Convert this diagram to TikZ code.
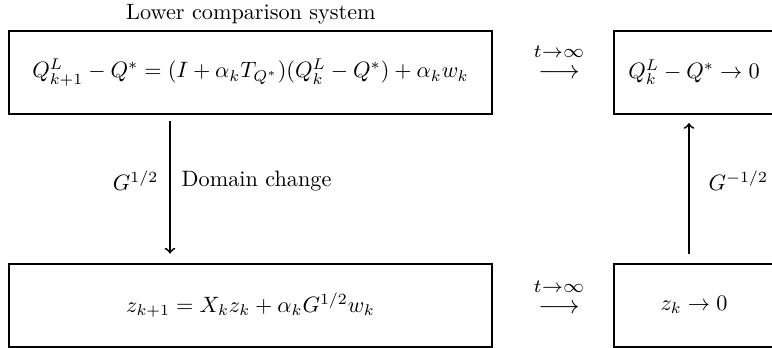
\documentclass[tikz,border=0pt]{standalone}
\usepackage{amsmath}
\usepackage{graphicx}
\begin{document}
\begin{tikzpicture}[x=0.45pt,y=-0.45pt,
  box/.style={draw,line width=0.9pt,rectangle,inner sep=0pt},
  arr/.style={->,line width=0.8pt},
  lbl/.style={inner sep=1pt}]
\useasboundingbox (0,0) rectangle (772,347);
\node[box,minimum width=217.35pt,minimum height=37.35pt] (b1) at (250.5,72.5)
  {$Q_{k+1}^L - Q^* = (I+\alpha_k T_{Q^*})(Q_k^L-Q^*) + \alpha_k w_k$};
\node[box,minimum width=81pt,minimum height=37.35pt] (b2) at (704,72.5) {};
\node (t2) at (694,72) {$Q_k^L - Q^* \to 0$};
\node[box,minimum width=217.35pt,minimum height=37.35pt] (b3) at (250.5,305)
  {$z_{k+1} = X_k z_k + \alpha_k G^{1/2} w_k$};
\node[box,minimum width=81pt,minimum height=37.35pt] (b4) at (704,305) {};
\node (t4) at (694,305) {$z_k \to 0$};
\node (cap) at (251,14) {Lower comparison system};
\node[inner sep=0pt] (l1) at (559,52) {\scalebox{1.2}{$\scriptstyle t\to\infty$}};
\node[inner sep=0pt] (a1) at (559,74) {\scalebox{1.15}{$\longrightarrow$}};
\node[inner sep=0pt] (l2) at (559,287) {\scalebox{1.2}{$\scriptstyle t\to\infty$}};
\node[inner sep=0pt] (a2) at (559,309) {\scalebox{1.15}{$\longrightarrow$}};
\coordinate (ax1) at (170,0);
\coordinate (ax2) at (689,0);
\draw[arr,shorten <=2.7pt,shorten >=4pt] (b1.south -| ax1) -- (b3.north -| ax1);
\draw[arr,shorten <=4pt,shorten >=3.6pt] (b4.north -| ax2) -- (b2.south -| ax2);
\node[lbl,anchor=east] (g1) at (161,181) {$G^{1/2}$};
\node[lbl,anchor=west] (dc) at (179,181) {Domain change};
\node[lbl,anchor=west] (g2) at (706,181) {$G^{-1/2}$};
\end{tikzpicture}
\end{document}
